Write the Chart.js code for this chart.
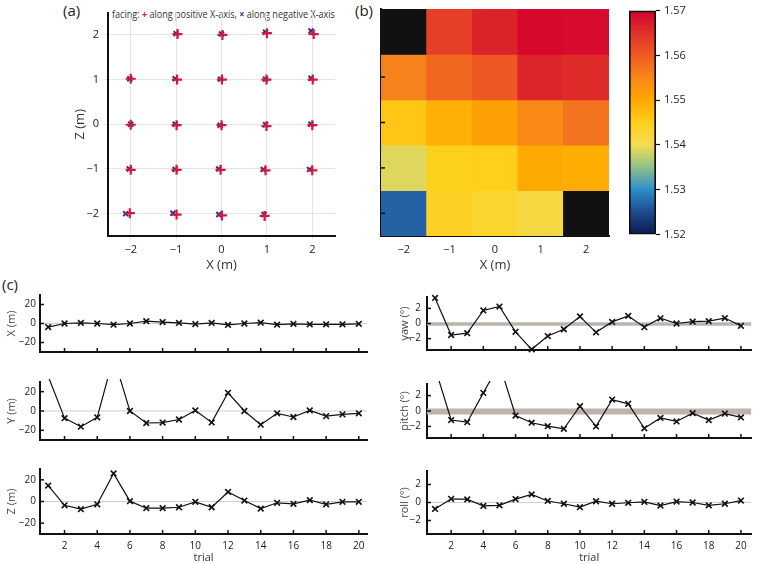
<!DOCTYPE html>
<html>
<head>
<meta charset="utf-8">
<script src="https://cdn.jsdelivr.net/npm/chart.js@4.4.0/dist/chart.umd.min.js"></script>
<style>
body{margin:0;background:#fff;width:757px;height:564px;position:relative;overflow:hidden;font-family:"Open Sans",sans-serif}
canvas{position:absolute}
.tag{position:absolute;font-size:15px;color:#222}
#legend{position:absolute;left:112px;top:6px;font-size:11px;color:#333;white-space:nowrap;transform-origin:0 0;font-family:"Open Sans",sans-serif}
#legend .p{color:#d5173f;font-weight:bold}
#legend .n{color:#2b3a85;font-weight:bold}
</style>
</head>
<body>
<div class="tag" style="left:63px;top:0px">(a)</div>
<div class="tag" style="left:355px;top:0px">(b)</div>
<div class="tag" style="left:2px;top:274px">(c)</div>
<div id="legend">facing: <span class="p">+</span> along positive X-axis, <span class="n">×</span> along negative X-axis</div>

<canvas id="posChart" width="285" height="275" style="left:60px;top:0"></canvas>
<canvas id="heatChart" width="245" height="275" style="left:370px;top:0"></canvas>
<canvas id="barChart" width="70" height="245" style="left:625px;top:0"></canvas>
<canvas id="xChart" width="375" height="77" style="left:0;top:285px"></canvas>
<canvas id="yChart" width="375" height="78" style="left:0;top:372px"></canvas>
<canvas id="zChart" width="375" height="105" style="left:0;top:459px"></canvas>
<canvas id="yawChart" width="377" height="77" style="left:380px;top:285px"></canvas>
<canvas id="pitchChart" width="377" height="78" style="left:380px;top:372px"></canvas>
<canvas id="rollChart" width="377" height="105" style="left:380px;top:459px"></canvas>

<script>
// (a) positions, facing +X and facing -X
const posX = [-0.97, 0.02, 1.00, 2.03, -2.00, -0.98, 0.01, 0.99, 2.01, -2.00, -0.99, 0.00, 0.99, 2.00, -2.00, -0.99, -0.02, 0.97, 2.00, -2.02, -0.99, 0.01, 0.95];
const posZ = [2.02, 2.00, 2.04, 2.02, 1.02, 1.00, 1.00, 1.00, 1.00, -0.01, -0.02, -0.02, -0.04, -0.02, -1.02, -1.02, -1.02, -1.03, -1.03, -1.99, -2.02, -2.04, -2.05];
const negX = [-1.00, 0.00, 0.97, 1.97, -2.02, -1.02, -0.02, 0.97, 1.97, -2.00, -1.02, -0.03, 0.97, 1.97, -2.03, -1.02, -0.06, 0.92, 1.94, -2.11, -1.07, -0.06, 0.94];
const negZ = [2.03, 2.02, 2.06, 2.09, 1.02, 1.02, 1.01, 1.01, 1.03, 0.00, 0.00, -0.02, -0.01, 0.00, -1.00, -1.01, -1.00, -1.01, -1.01, -2.00, -1.99, -2.02, -2.02];
const gridTicks = [-2, -1, 0, 1, 2];

// (b) heatmap, rows Z = 2 .. -2, columns X = -2 .. 2 (null = no data)
const heatX = ['-2', '-1', '0', '1', '2'];
const heatZ = [2, 1, 0, -1, -2];
const heatRows = [
  [null, 1.5632, 1.5665, 1.5692, 1.5690],
  [1.5555, 1.5585, 1.5602, 1.5662, 1.5655],
  [1.5462, 1.5490, 1.5512, 1.5545, 1.5572],
  [1.5390, 1.5448, 1.5450, 1.5497, 1.5495],
  [1.5268, 1.5443, 1.5432, 1.5415, null]
];
const barTicks = [1.52, 1.53, 1.54, 1.55, 1.56, 1.57];
const barStops = [
  [1.520, '#0b1a50'], [1.525, '#1f4a8e'], [1.530, '#2c8ec8'], [1.535, '#90c08a'],
  [1.540, '#f2dc52'], [1.545, '#ffcf1c'], [1.550, '#ffa800'], [1.555, '#f7861a'],
  [1.560, '#ef5a22'], [1.565, '#e0302a'], [1.570, '#d4022e']
];

// (c) per-trial errors
const trials = [1,2,3,4,5,6,7,8,9,10,11,12,13,14,15,16,17,18,19,20];
const evenTrials = [2,4,6,8,10,12,14,16,18,20];
const errX = [-3.8, 0, 0.6, 0, -1.2, 0, 2.4, 1.5, 0.6, -0.6, 0.6, -1.5, 0, 0.9, -1.2, -0.3, -0.9, -0.9, -0.9, -0.3];
const errY = [36, -7.4, -16.2, -6.5, 56, 0, -12.4, -12, -8.8, 0.6, -11.8, 18.8, 0, -14.1, -2.4, -6.2, 0.6, -5.3, -3.5, -2.4];
const errZ = [14.7, -3.5, -7.1, -2.6, 25.9, 0.3, -6.2, -6.2, -5.3, -0.3, -5.3, 8.8, 0.9, -6.5, -1.2, -2.1, 1.2, -2.6, -0.3, -0.3];
const errYaw = [3.38, -1.52, -1.28, 1.72, 2.24, -1.1, -3.41, -1.66, -0.76, 0.93, -1.17, 0.21, 1.0, -0.48, 0.69, 0, 0.24, 0.31, 0.72, -0.31];
const errPitch = [5.6, -1.17, -1.45, 2.35, 6.1, -0.59, -1.52, -1.97, -2.31, 0.62, -2.0, 1.48, 0.93, -2.24, -0.9, -1.35, -0.28, -1.17, -0.34, -0.83];
const errRoll = [-0.72, 0.41, 0.34, -0.38, -0.31, 0.38, 0.9, 0.17, -0.14, -0.52, 0.14, -0.14, -0.03, 0.07, -0.34, 0.1, 0, -0.31, -0.14, 0.21];
const posTicks = [-20, 0, 20];
const angTicks = [-2, 0, 2];

Chart.defaults.font.family = "'Open Sans', sans-serif";
Chart.defaults.color = '#222';
Chart.defaults.animation = false;
Chart.defaults.responsive = false;
Chart.defaults.plugins.legend.display = false;
Chart.defaults.plugins.tooltip.enabled = false;

const minus = v => String(v).replace('-', '\u2212');
const black = '#111';

// short tick marks pointing into the plot
const innerTicks = {
  id: 'innerTicks',
  afterDatasetsDraw(chart, args, opts) {
    const {ctx, chartArea: a, scales} = chart;
    const len = opts.len || 4;
    ctx.save();
    ctx.strokeStyle = black;
    ctx.lineWidth = 1.5;
    (opts.x || []).forEach(v => {
      const px = scales.x.getPixelForValue(v);
      ctx.beginPath(); ctx.moveTo(px, a.bottom); ctx.lineTo(px, a.bottom - len); ctx.stroke();
    });
    (opts.y || []).forEach(v => {
      const py = scales.y.getPixelForValue(v);
      ctx.beginPath(); ctx.moveTo(a.left, py); ctx.lineTo(a.left + len, py); ctx.stroke();
    });
    ctx.restore();
  }
};

function hexRgb(h) {
  return [1, 3, 5].map(i => parseInt(h.slice(i, i + 2), 16));
}
function colorFor(v) {
  if (v === null) return '#111';
  if (v <= barStops[0][0]) return barStops[0][1];
  for (let i = 1; i < barStops.length; i++) {
    if (v <= barStops[i][0]) {
      const [v0, c0] = barStops[i - 1], [v1, c1] = barStops[i];
      const t = (v - v0) / (v1 - v0);
      const a = hexRgb(c0), b = hexRgb(c1);
      const m = a.map((x, k) => Math.round(x + (b[k] - x) * t));
      return 'rgb(' + m.join(',') + ')';
    }
  }
  return barStops[barStops.length - 1][1];
}

// (a) scatter
new Chart(document.getElementById('posChart'), {
  type: 'scatter',
  data: {
    datasets: [
      { data: posX.map((x, i) => ({x: x, y: posZ[i]})), pointStyle: 'cross', pointRadius: 5,
        pointBorderWidth: 2.2, borderColor: '#d5173f', backgroundColor: '#d5173f', order: 0 },
      { data: negX.map((x, i) => ({x: x, y: negZ[i]})), pointStyle: 'crossRot', pointRadius: 3.5,
        pointBorderWidth: 2, borderColor: '#2b3a85', backgroundColor: '#2b3a85', order: 1 }
    ]
  },
  options: {
    layout: { padding: { top: 8, right: 10 } },
    scales: {
      x: {
        min: -2.5, max: 2.5,
        afterBuildTicks: s => { s.ticks = gridTicks.map(v => ({value: v})); },
        afterFit: s => { s.height = 39; },
        grid: { color: '#e4e4e4', tickLength: 3 },
        border: { color: black, width: 2 },
        ticks: { font: { size: 11 }, padding: 4, callback: minus },
        title: { display: true, text: 'X (m)', font: { size: 13 }, color: '#333', padding: { top: 0, bottom: 2 } }
      },
      y: {
        min: -2.5, max: 2.5,
        afterBuildTicks: s => { s.ticks = gridTicks.map(v => ({value: v})); },
        afterFit: s => { s.width = 48; },
        grid: { color: '#e4e4e4', tickLength: 3 },
        border: { color: black, width: 2 },
        ticks: { font: { size: 11 }, padding: 6, callback: minus },
        title: { display: true, text: 'Z (m)', font: { size: 13 }, color: '#333', padding: { top: 12, bottom: 0 } }
      }
    }
  }
});

// (b) heatmap as floating bars
new Chart(document.getElementById('heatChart'), {
  type: 'bar',
  data: {
    labels: heatX,
    datasets: heatRows.map((row, r) => ({
      data: row.map(() => [heatZ[r] - 0.5, heatZ[r] + 0.5]),
      backgroundColor: row.map(colorFor),
      borderWidth: 0,
      grouped: false,
      barPercentage: 1,
      categoryPercentage: 1
    }))
  },
  options: {
    layout: { padding: { top: 9, right: 6 } },
    scales: {
      x: {
        afterFit: s => { s.height = 39; },
        grid: { display: false, drawTicks: false, tickLength: 0 },
        border: { color: black, width: 2 },
        ticks: { font: { size: 11 }, padding: 7, callback: function (v) { return minus(this.getLabelForValue(v)); } },
        title: { display: true, text: 'X (m)', font: { size: 13 }, color: '#333', padding: { top: 0, bottom: 2 } }
      },
      y: {
        min: -2.5, max: 2.5,
        afterFit: s => { s.width = 11; },
        grid: { display: false },
        border: { color: black, width: 2 },
        ticks: { display: false }
      }
    },
    plugins: { innerTicks: { y: gridTicks, len: 4 } }
  },
  plugins: [innerTicks]
});

// colour bar
new Chart(document.getElementById('barChart'), {
  type: 'bar',
  data: {
    labels: [''],
    datasets: [{
      data: [[barTicks[0], barTicks[barTicks.length - 1]]],
      backgroundColor: ctx => {
        const chart = ctx.chart, ys = chart.scales.y;
        if (!chart.chartArea || !ys) return '#888';
        const y0 = ys.getPixelForValue(barStops[0][0]);
        const y1 = ys.getPixelForValue(barStops[barStops.length - 1][0]);
        if (!isFinite(y0) || !isFinite(y1) || y0 === y1) return '#888';
        const g = chart.ctx.createLinearGradient(0, y0, 0, y1);
        barStops.forEach(([v, c]) => g.addColorStop((v - barStops[0][0]) / (barStops[barStops.length - 1][0] - barStops[0][0]), c));
        return g;
      },
      borderColor: black,
      borderWidth: 2,
      borderSkipped: false,
      barPercentage: 1,
      categoryPercentage: 1
    }]
  },
  options: {
    layout: { padding: { top: 9, left: 4, bottom: 9 } },
    scales: {
      x: { display: false },
      y: {
        position: 'right',
        min: 1.52, max: 1.57,
        afterBuildTicks: s => { s.ticks = barTicks.map(v => ({value: v})); },
        afterFit: s => { s.width = 39; },
        grid: { display: true, drawOnChartArea: false, color: black, tickLength: 4, tickWidth: 1.2 },
        border: { display: false },
        ticks: { font: { size: 11 }, padding: 4, callback: v => v.toFixed(2) }
      }
    }
  }
});

// (c) traces
function trace(id, vals, cfg) {
  new Chart(document.getElementById(id), {
    type: 'line',
    data: {
      datasets: [
        { data: trials.map((t, i) => ({x: t, y: vals[i]})), borderColor: black, borderWidth: 1.2,
          pointStyle: 'crossRot', pointRadius: 4, pointBorderWidth: 1.6, pointBorderColor: black,
          pointBackgroundColor: black, clip: { left: 8, right: 8, top: 3, bottom: 3 }, order: 1 },
        { data: [{x: cfg.xMin, y: cfg.ref}, {x: cfg.xMax, y: cfg.ref}], borderColor: cfg.refColor,
          borderWidth: cfg.refWidth, pointRadius: 0, order: 2 }
      ]
    },
    options: {
      layout: { padding: { top: 7, right: cfg.padRight } },
      scales: {
        x: {
          type: 'linear', min: cfg.xMin, max: cfg.xMax,
          afterBuildTicks: s => { s.ticks = evenTrials.map(v => ({value: v})); },
          afterFit: s => { s.height = cfg.bottom ? 30 : 2; },
          grid: { display: false, drawTicks: false, tickLength: 0 },
          border: { color: black, width: 2 },
          ticks: { display: cfg.bottom, font: { size: 10 }, padding: 6, maxRotation: 0 },
          title: { display: cfg.bottom, text: 'trial', font: { size: 11 }, color: '#333', padding: { top: 0, bottom: 0 } }
        },
        y: {
          min: cfg.yMin, max: cfg.yMax,
          afterBuildTicks: s => { s.ticks = cfg.ticks.map(v => ({value: v})); },
          afterFit: s => { s.width = cfg.yWidth; },
          grid: { display: false, drawTicks: false, tickLength: 0 },
          border: { color: black, width: 2 },
          ticks: { font: { size: 10 }, padding: cfg.tickPad, callback: minus },
          title: { display: true, text: cfg.label, font: { size: 11 }, color: '#444', padding: { top: cfg.titlePad, bottom: 0 } }
        }
      },
      plugins: { innerTicks: { x: evenTrials, y: cfg.ticks, len: 4 } }
    },
    plugins: [innerTicks]
  });
}

const left = { xMin: 0.5, xMax: 20.5, yMin: -30, yMax: 30, ticks: posTicks, yWidth: 40, padRight: 8,
  tickPad: 4, titlePad: 5, ref: 0, refColor: '#cfcfcf', refWidth: 1 };
const right = { xMin: 0.5, xMax: 20.65, yMin: -3.5, yMax: 3.5, ticks: angTicks, yWidth: 47, padRight: 2,
  tickPad: 6, titlePad: 18, ref: 0, refColor: '#cfcfcf', refWidth: 1 };

trace('xChart', errX, Object.assign({}, left, { label: 'X (m)', bottom: false }));
trace('yChart', errY, Object.assign({}, left, { label: 'Y (m)', bottom: false }));
trace('zChart', errZ, Object.assign({}, left, { label: 'Z (m)', bottom: true }));
trace('yawChart', errYaw, Object.assign({}, right, { label: 'yaw (°)', bottom: false, ref: -0.08, refColor: '#bdb3ae', refWidth: 3.5 }));
trace('pitchChart', errPitch, Object.assign({}, right, { label: 'pitch (°)', bottom: false, ref: -0.07, refColor: '#bdb3ae', refWidth: 6 }));
trace('rollChart', errRoll, Object.assign({}, right, { label: 'roll (°)', bottom: true }));

// fit legend text to its width in the reference
const lg = document.getElementById('legend');
lg.style.transform = 'scaleX(' + (223 / lg.offsetWidth) + ')';
</script>
</body>
</html>
